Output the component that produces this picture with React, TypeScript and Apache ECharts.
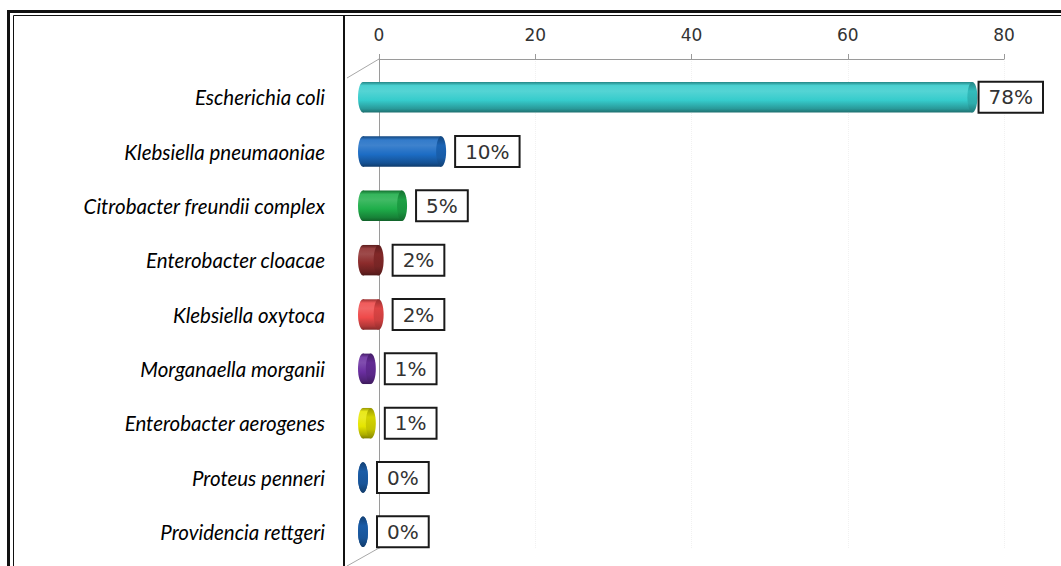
import React, { useEffect, useRef } from "react";
import * as echarts from "echarts";

// Isolated organisms and their share of all isolates (%)
const categories = [
  "Escherichia coli",
  "Klebsiella pneumaoniae",
  "Citrobacter freundii complex",
  "Enterobacter cloacae",
  "Klebsiella oxytoca",
  "Morganaella morganii",
  "Enterobacter aerogenes",
  "Proteus penneri",
  "Providencia rettgeri",
];
const percentages = [78, 10, 5, 2, 2, 1, 1, 0, 0];
const barColors = [
  "#36cccc",
  "#1c6cc4",
  "#1fae4a",
  "#8c2b2b",
  "#ef4a4a",
  "#6a2ea0",
  "#e6e600",
  "#1d64b4",
  "#1d64b4",
];
const axisMin = 0;
const axisMax = 80;
const axisStep = 20;

function mix(hex: string, target: number, t: number): string {
  const n = parseInt(hex.slice(1), 16);
  const ch = [(n >> 16) & 255, (n >> 8) & 255, n & 255].map((c) =>
    Math.round(c + (target - c) * t)
  );
  return "rgb(" + ch.join(",") + ")";
}

function bodyGradient(c: string) {
  return new echarts.graphic.LinearGradient(0, 0, 0, 1, [
    { offset: 0, color: mix(c, 0, 0.35) },
    { offset: 0.12, color: mix(c, 255, 0.1) },
    { offset: 0.3, color: mix(c, 255, 0.15) },
    { offset: 0.6, color: c },
    { offset: 0.88, color: mix(c, 0, 0.25) },
    { offset: 1, color: mix(c, 0, 0.45) },
  ]);
}

function capGradient(c: string) {
  return new echarts.graphic.LinearGradient(0, 0, 0, 1, [
    { offset: 0, color: mix(c, 0, 0.35) },
    { offset: 0.3, color: mix(c, 0, 0.08) },
    { offset: 0.7, color: mix(c, 0, 0.15) },
    { offset: 1, color: mix(c, 0, 0.4) },
  ]);
}

export default function App() {
  const ref = useRef<HTMLDivElement>(null);

  useEffect(() => {
    if (!ref.current) return;
    const chart = echarts.init(ref.current, null, { renderer: "svg" });
    const W = 1061;
    const H = 566;
    // depth of the pseudo-3D box: bars sit half way between front and back wall
    const dx = 16;
    const dy = 10;
    const back = { left: 379, right: 57, top: 59, bottom: 18 };
    const front = {
      left: back.left - dx,
      right: back.right + dx,
      top: back.top + dy + 1,
      bottom: back.bottom - dy - 1,
    };

    const option: any = {
      animation: false,
      backgroundColor: "#ffffff",
      grid: [
        { ...back, containLabel: false },
        { ...front, containLabel: false },
      ],
      xAxis: [
        {
          type: "value",
          gridIndex: 0,
          position: "top",
          min: axisMin,
          max: axisMax,
          interval: axisStep,
          axisLine: { show: true, lineStyle: { color: "#9a9a9a", width: 1 } },
          axisTick: { show: true, length: 5, lineStyle: { color: "#9a9a9a" } },
          axisLabel: {
            color: "#333333",
            fontFamily: "DejaVu Sans",
            fontSize: 17,
            margin: 16,
          },
          splitLine: {
            show: true,
            lineStyle: { color: "#f1f1f1", type: "dotted", width: 1 },
          },
        },
        {
          type: "value",
          gridIndex: 1,
          min: axisMin,
          max: axisMax,
          interval: axisStep,
          show: false,
        },
      ],
      yAxis: [
        {
          type: "category",
          gridIndex: 0,
          inverse: true,
          data: categories,
          axisLine: { show: true, lineStyle: { color: "#9a9a9a", width: 1 } },
          axisTick: { show: false },
          axisLabel: { show: false },
          splitLine: { show: false },
        },
        {
          type: "category",
          gridIndex: 1,
          inverse: true,
          data: categories,
          axisLine: { show: false },
          axisTick: { show: false },
          axisLabel: {
            color: "#000000",
            fontFamily: "Lato",
            fontStyle: "italic",
            fontSize: 20.5,
            margin: 38,
            padding: [0, 0, 8, 0],
          },
          splitLine: { show: false },
        },
      ],
      series: [
        {
          type: "custom",
          xAxisIndex: 1,
          yAxisIndex: 1,
          data: percentages.map((v, i) => [v, i]),
          encode: { x: 0, y: 1 },
          renderItem: (params: any, api: any) => {
            const v = api.value(0);
            const idx = api.value(1);
            const p0 = api.coord([0, idx]);
            const p1 = api.coord([v, idx]);
            const band = api.size([0, 1])[1];
            const bh = band * 0.56;
            const rx = 5;
            const cy = p0[1];
            const c = barColors[params.dataIndex];
            const label = v + "%";
            const estW = label.length * 12.5 + 24;
            let lx = p1[0] + rx + 10;
            let align = "left";
            if (lx + estW > W - 18) {
              lx = W - 19;
              align = "right";
            }
            return {
              type: "group",
              children: [
                {
                  type: "ellipse",
                  shape: { cx: p0[0], cy, rx, ry: bh / 2 },
                  style: { fill: bodyGradient(c) },
                },
                {
                  type: "rect",
                  shape: { x: p0[0], y: cy - bh / 2, width: p1[0] - p0[0], height: bh },
                  style: { fill: bodyGradient(c) },
                },
                {
                  type: "ellipse",
                  shape: { cx: p1[0], cy, rx, ry: bh / 2 },
                  style: { fill: capGradient(c) },
                },
                {
                  type: "text",
                  x: lx,
                  y: cy,
                  style: {
                    text: label,
                    fill: "#333333",
                    font: "20px 'DejaVu Sans'",
                    align,
                    verticalAlign: "middle",
                    backgroundColor: "#ffffff",
                    borderColor: "#1a1a1a",
                    borderWidth: 2,
                    padding: [5, 9, 4, 9],
                  },
                },
              ],
            };
          },
        },
      ],
      graphic: [
        // double frame around the figure
        {
          type: "rect",
          shape: { x: 8.5, y: 11.5, width: W + 20, height: H + 20 },
          style: { fill: "none", stroke: "#111111", lineWidth: 3 },
          z: 10,
        },
        {
          type: "rect",
          shape: { x: 13.5, y: 15.5, width: W + 20, height: H + 20 },
          style: { fill: "none", stroke: "#111111", lineWidth: 1 },
          z: 10,
        },
        // right edge of the label panel
        {
          type: "line",
          shape: { x1: 344, y1: 15, x2: 344, y2: H },
          style: { stroke: "#111111", lineWidth: 2 },
          z: 10,
        },
        // floor / ceiling edges of the 3D box
        {
          type: "line",
          shape: { x1: back.left - 2 * dx, y1: back.top + 2 * dy - 1, x2: back.left, y2: back.top },
          style: { stroke: "#a8a8a8", lineWidth: 1 },
        },
        {
          type: "line",
          shape: {
            x1: back.left,
            y1: H - back.bottom,
            x2: back.left - 2 * dx,
            y2: H - back.bottom + 2 * dy - 2,
          },
          style: { stroke: "#a8a8a8", lineWidth: 1 },
        },
      ],
    };

    chart.setOption(option);
    return () => chart.dispose();
  }, []);

  return (
    <div
      ref={ref}
      style={{ position: "fixed", left: 0, top: 0, width: 1061, height: 566 }}
    />
  );
}
